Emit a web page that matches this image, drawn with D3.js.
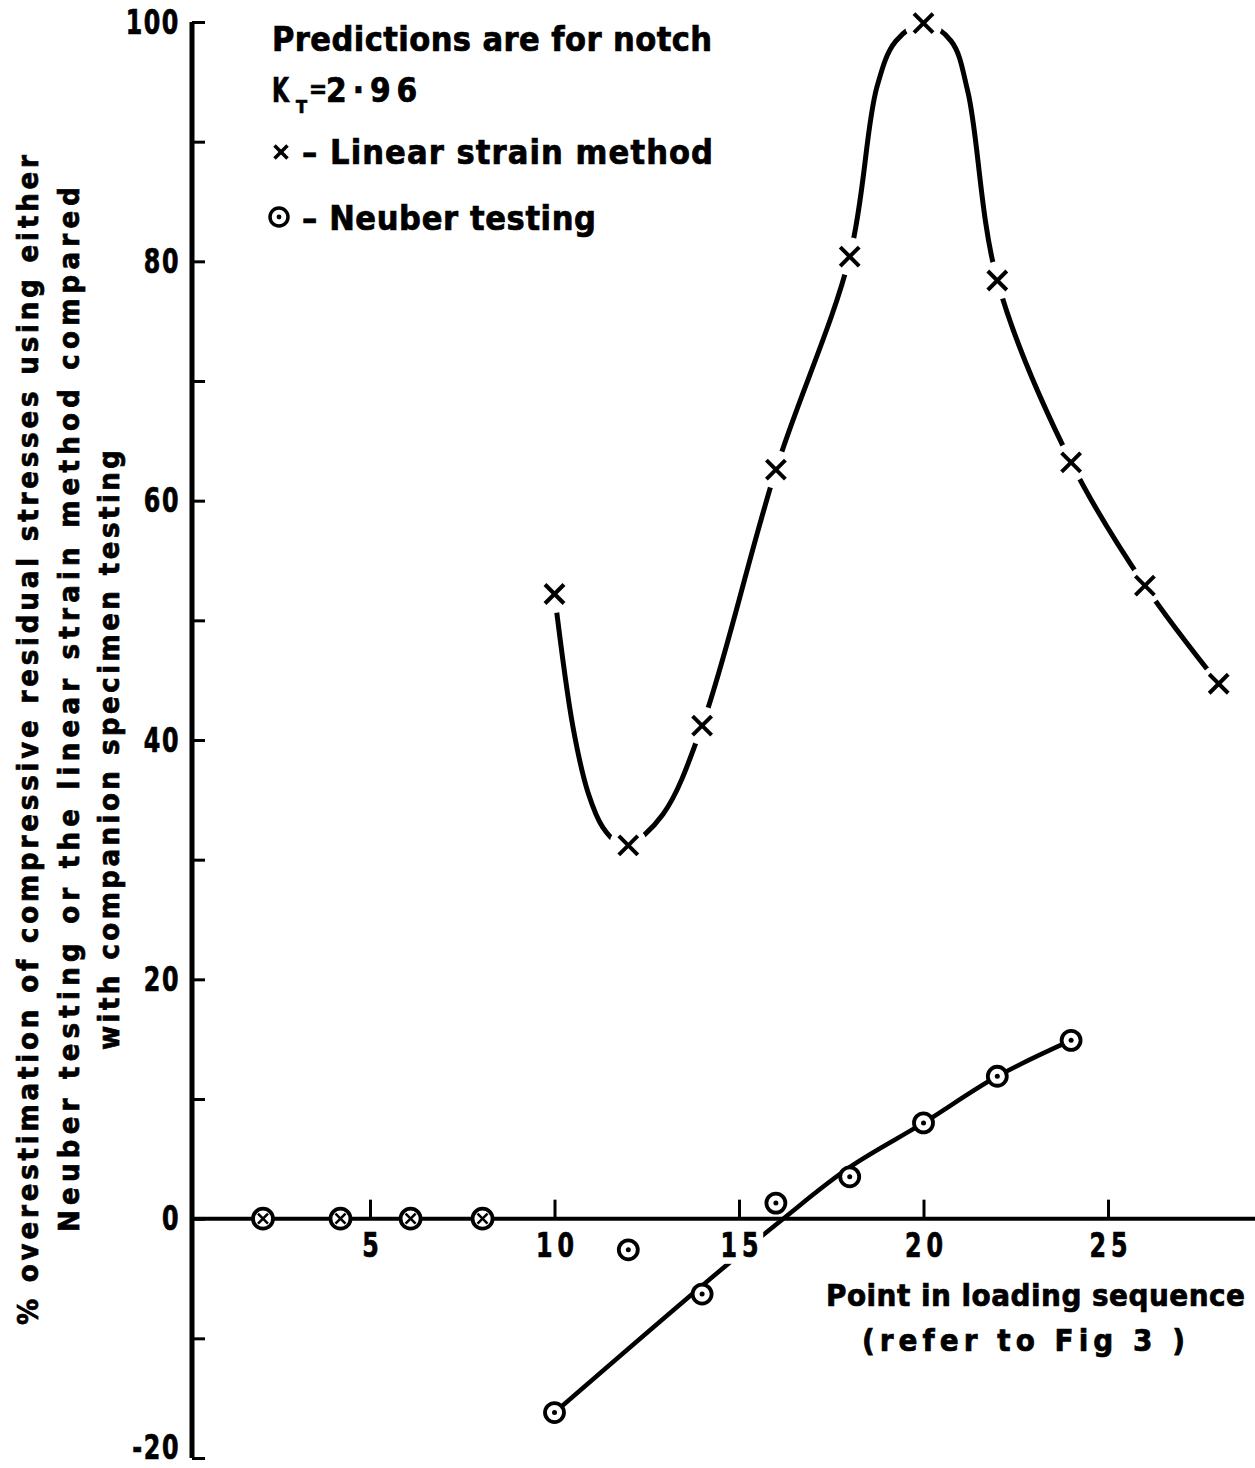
<!DOCTYPE html>
<html>
<head>
<meta charset="utf-8">
<script src="https://cdn.jsdelivr.net/npm/d3@7"></script>
<style>
  html, body { margin: 0; padding: 0; background: #fff; }
  svg { display: block; }
  text { font-family: "DejaVu Sans Condensed", "DejaVu Sans", sans-serif; font-weight: bold; fill: #000; stroke: #000; stroke-width: 0.7px; }
</style>
</head>
<body>
<svg id="chart" width="1255" height="1468"></svg>
<script>
// ---------------- data ----------------
// Linear strain method (x markers)
const linearX = [10, 12, 14, 16, 18, 20, 22, 24, 26, 28];
const linearY = [52.2, 31.2, 41.2, 62.6, 80.4, 99.9, 78.4, 63.2, 52.9, 44.7];
// Hand-drawn smooth curve through the linear strain points (knots)
const linearCurveX = [10, 10.5, 10.91, 11.31, 11.72, 12, 12.94, 14, 16, 18, 18.74, 19.25, 20, 20.75, 21.2, 22, 24, 26, 28];
const linearCurveY = [52.2, 41.1, 35.6, 32.7, 31.4, 31.2, 33.8, 41.2, 62.6, 80.4, 94.6, 98.4, 99.9, 98.4, 94.2, 78.4, 63.2, 52.9, 44.7];
// Neuber testing (circle-dot markers)
const neuberX = [10, 12, 14, 16, 18, 20, 22, 24];
const neuberY = [-16.2, -2.6, -6.3, 1.3, 3.5, 8.0, 11.9, 14.9];
// Drawn fit line for Neuber testing
const neuberFitX = [10, 14, 16.2, 18, 20, 22, 24];
const neuberFitY = [-16.2, -5.6, 0, 4.3, 8.0, 11.9, 14.9];
// Points where both methods coincide (circled x, at 0)
const bothX = [2.1, 4.2, 6.1, 8.05];
const bothY = [0, 0, 0, 0];
// Ticks
const xTickValues = [5, 10, 15, 20, 25];
const yTickValues = [-20, -10, 0, 10, 20, 30, 40, 50, 60, 70, 80, 90, 100];
const yLabelValues = [-20, 0, 20, 40, 60, 80, 100];

const yTitleLines = [
  "% overestimation of compressive residual stresses using either",
  "Neuber testing or the linear strain method compared",
  "with companion specimen testing"
];
const xTitleLines = ["Point in loading sequence", "(refer to Fig 3 )"];

// ---------------- layout ----------------
const svg = d3.select("#chart");
const axisX = 192;          // pixel position of the vertical axis line
const x = d3.scaleLinear().domain([0, 28]).range([185.5, 1218.7]);
const y = d3.scaleLinear().domain([-20, 100]).range([1458, 22]);
const squeeze = 0.8;        // narrow lettering for the tick numbers

function fitText(sel, target) {
  sel.each(function () {
    const n = this.getComputedTextLength();
    d3.select(this).attr("textLength", target)
      .attr("lengthAdjust", n < target ? "spacing" : "spacingAndGlyphs");
  });
}

// ---------------- axes ----------------
svg.append("line")
  .attr("x1", axisX).attr("x2", 1255)
  .attr("y1", y(0)).attr("y2", y(0))
  .attr("stroke", "#000").attr("stroke-width", 4);

const yAxis = d3.axisLeft(y).tickValues(yTickValues).tickSize(-13).tickPadding(12)
  .tickFormat(d => (yLabelValues.includes(d) ? String(d) : ""));
const gy = svg.append("g").attr("transform", `translate(${axisX},0)`).call(yAxis);
gy.select(".domain").attr("stroke", "#000").attr("stroke-width", 5)
  .attr("d", `M0,${y(100)}V${y(-20)}`);
gy.selectAll(".tick line").attr("stroke", "#000").attr("stroke-width", 3);
gy.selectAll(".tick text").attr("font-size", 33).attr("fill", "#000")
  .attr("letter-spacing", 2)
  .attr("x", -12 / squeeze)
  .attr("transform", `scale(${squeeze},1)`)
  .attr("dy", d => (d === -20 ? "0.0em" : "0.34em"));

// ---------------- curves ----------------
const linearCurve = linearCurveX.map((v, i) => [v, linearCurveY[i]]);
const neuberFit = neuberFitX.map((v, i) => [v, neuberFitY[i]]);
const line = d3.line().x(d => x(d[0])).y(d => y(d[1])).curve(d3.curveCatmullRom.alpha(0.5));

svg.append("path").datum(linearCurve).attr("d", line)
  .attr("fill", "none").attr("stroke", "#000").attr("stroke-width", 5).attr("stroke-linecap", "round");

svg.append("path").datum(neuberFit).attr("d", line)
  .attr("fill", "none").attr("stroke", "#000").attr("stroke-width", 4.5).attr("stroke-linecap", "round");

// x axis ticks and labels drawn above the Neuber line (the line breaks round the "15")
const xAxis = d3.axisBottom(x).tickValues(xTickValues).tickSize(-19).tickPadding(15).tickFormat(d3.format("d"));
const gx = svg.append("g").attr("transform", `translate(0,${y(0)})`).call(xAxis);
gx.select(".domain").remove();
gx.selectAll(".tick line").attr("stroke", "#000").attr("stroke-width", 3);
gx.selectAll(".tick text").attr("font-size", 33).attr("fill", "#000")
  .attr("letter-spacing", 6).attr("dx", 3)
  .attr("transform", `scale(${squeeze},1)`);
gx.selectAll(".tick").each(function () {
  const t = d3.select(this).select("text");
  const b = t.node().getBBox();
  d3.select(this).insert("rect", "text")
    .attr("x", b.x - 4).attr("y", b.y + 3).attr("width", b.width + 4).attr("height", b.height - 4)
    .attr("transform", `scale(${squeeze},1)`).attr("fill", "#fff");
});

// ---------------- markers ----------------
const linearPts = linearX.map((v, i) => [v, linearY[i]]);
svg.append("g").selectAll("circle").data(linearPts).join("circle")
  .attr("cx", d => x(d[0])).attr("cy", d => y(d[1])).attr("r", 19).attr("fill", "#fff");
const xm = svg.append("g").selectAll("g").data(linearPts).join("g")
  .attr("transform", d => `translate(${x(d[0])},${y(d[1])})`);
const s = 9.5;
xm.append("line").attr("x1", -s).attr("y1", -s).attr("x2", s).attr("y2", s).attr("stroke", "#000").attr("stroke-width", 4);
xm.append("line").attr("x1", -s).attr("y1", s).attr("x2", s).attr("y2", -s).attr("stroke", "#000").attr("stroke-width", 4);

const neuberPts = neuberX.map((v, i) => [v, neuberY[i]]);
const nm = svg.append("g").selectAll("g").data(neuberPts).join("g")
  .attr("transform", d => `translate(${x(d[0])},${y(d[1])})`);
nm.append("circle").attr("r", 9.5).attr("fill", "#fff").attr("stroke", "#000").attr("stroke-width", 3.8);
nm.append("circle").attr("r", 2.5).attr("fill", "#000");

const bothPts = bothX.map((v, i) => [v, bothY[i]]);
const bm = svg.append("g").selectAll("g").data(bothPts).join("g")
  .attr("transform", d => `translate(${x(d[0])},${y(d[1])})`);
bm.append("circle").attr("r", 10).attr("fill", "#fff").attr("stroke", "#000").attr("stroke-width", 3.8);
const sb = 5;
bm.append("line").attr("x1", -sb).attr("y1", -sb).attr("x2", sb).attr("y2", sb).attr("stroke", "#000").attr("stroke-width", 2.6);
bm.append("line").attr("x1", -sb).attr("y1", sb).attr("x2", sb).attr("y2", -sb).attr("stroke", "#000").attr("stroke-width", 2.6);

// ---------------- legend / annotation ----------------
const ann = svg.append("g");
ann.append("text").attr("x", 272).attr("y", 51).attr("font-size", 34)
  .text("Predictions are for notch").call(fitText, 440);
ann.append("text").attr("x", 272).attr("y", 102).attr("font-size", 34).text("K")
  .attr("textLength", 17).attr("lengthAdjust", "spacingAndGlyphs");
ann.append("text").attr("x", 296).attr("y", 113).attr("font-size", 18).text("T");
ann.append("text").attr("x", 309).attr("y", 98).attr("font-size", 24).text("=");
ann.append("text").attr("x", 326).attr("y", 102).attr("font-size", 33).attr("letter-spacing", 6).text("2·96");

const lx = ann.append("g").attr("transform", "translate(281,152)");
lx.append("line").attr("x1", -6.5).attr("y1", -6.5).attr("x2", 6.5).attr("y2", 6.5).attr("stroke", "#000").attr("stroke-width", 3.5);
lx.append("line").attr("x1", -6.5).attr("y1", 6.5).attr("x2", 6.5).attr("y2", -6.5).attr("stroke", "#000").attr("stroke-width", 3.5);
ann.append("text").attr("x", 302).attr("y", 164).attr("font-size", 34)
  .text("– Linear strain  method").call(fitText, 411);
const lc = ann.append("g").attr("transform", "translate(279,217)");
lc.append("circle").attr("r", 9).attr("fill", "#fff").attr("stroke", "#000").attr("stroke-width", 3.5);
lc.append("circle").attr("r", 2.4).attr("fill", "#000");
ann.append("text").attr("x", 302).attr("y", 230).attr("font-size", 34)
  .text("– Neuber testing").call(fitText, 294);

// ---------------- axis titles ----------------
const yTitleBase = [38, 79, 119];
const yTitleStart = [1325, 1232, 1050];
const yTitleLen = [1170, 1045, 600];
yTitleLines.forEach((t, i) => {
  svg.append("text")
    .attr("transform", `translate(${yTitleBase[i]},${yTitleStart[i]}) rotate(-90)`)
    .attr("x", 0).attr("y", 0).attr("font-size", 29)
    .text(t).call(fitText, yTitleLen[i]);
});

const xTitleX = [826, 862];
const xTitleY = [1306, 1351];
const xTitleLen = [419, 323];
xTitleLines.forEach((t, i) => {
  svg.append("text").attr("x", xTitleX[i]).attr("y", xTitleY[i]).attr("font-size", 31)
    .text(t).call(fitText, xTitleLen[i]);
});
</script>
</body>
</html>
